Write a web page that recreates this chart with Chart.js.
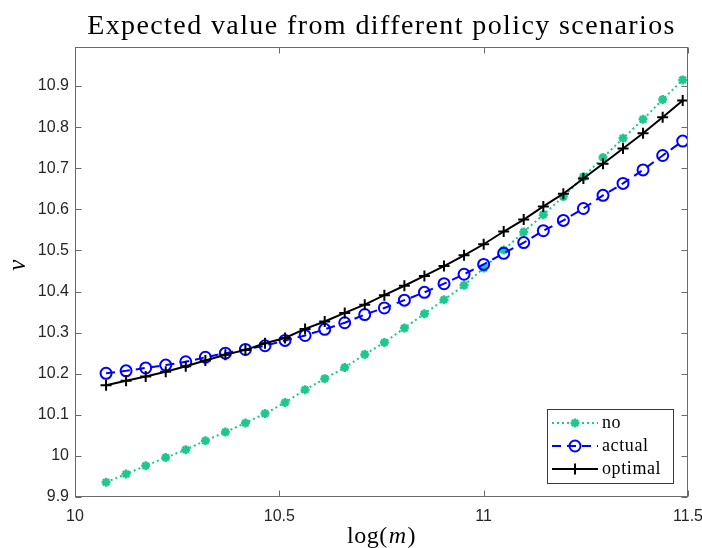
<!DOCTYPE html>
<html>
<head>
<meta charset="utf-8">
<script src="https://cdn.jsdelivr.net/npm/chart.js@4/dist/chart.umd.min.js"></script>
<style>
  html, body { margin: 0; padding: 0; background: #fff; }
</style>
</head>
<body>
<canvas id="valueChart" width="702" height="548"></canvas>
<script>
// grid of log(m)
const logM = [
  10.076, 10.125, 10.173, 10.222, 10.271, 10.319, 10.368, 10.417, 10.465, 10.514,
  10.563, 10.611, 10.660, 10.709, 10.757, 10.806, 10.855, 10.903, 10.952, 11.000,
  11.049, 11.098, 11.146, 11.195, 11.244, 11.292, 11.341, 11.390, 11.438, 11.487
];

// value under each policy scenario
const noPolicy = [
  9.936, 9.956, 9.976, 9.996, 10.015, 10.037, 10.058, 10.080, 10.103, 10.130,
  10.161, 10.188, 10.215, 10.247, 10.276, 10.311, 10.346, 10.380, 10.415, 10.457,
  10.501, 10.545, 10.587, 10.631, 10.679, 10.726, 10.773, 10.819, 10.867, 10.915
];
const actualPolicy = [
  10.201, 10.207, 10.214, 10.221, 10.229, 10.240, 10.250, 10.259, 10.268, 10.281,
  10.293, 10.308, 10.324, 10.344, 10.360, 10.379, 10.398, 10.419, 10.442, 10.466,
  10.493, 10.519, 10.548, 10.573, 10.602, 10.634, 10.663, 10.696, 10.731, 10.766
];
const optimalPolicy = [
  10.172, 10.183, 10.193, 10.205, 10.218, 10.232, 10.246, 10.258, 10.274, 10.287,
  10.309, 10.327, 10.348, 10.368, 10.391, 10.414, 10.438, 10.462, 10.488, 10.515,
  10.546, 10.575, 10.607, 10.638, 10.675, 10.711, 10.748, 10.785, 10.824, 10.865
];

const xTicks = [10, 10.5, 11, 11.5];
const xTickLabels = ['10', '10.5', '11', '11.5'];
const yTicks = [9.9, 10, 10.1, 10.2, 10.3, 10.4, 10.5, 10.6, 10.7, 10.8, 10.9];
const yTickLabels = ['9.9', '10', '10.1', '10.2', '10.3', '10.4', '10.5', '10.6', '10.7', '10.8', '10.9'];

const seriesNames = ['no', 'actual', 'optimal'];

const toPoints = (ys) => logM.map((x, i) => ({ x: x, y: ys[i] }));

const axisColor = '#6b6b6b';
const labelColor = '#262626';
const serif = '"Liberation Serif", "Times New Roman", serif';

// box, inner ticks, title, axis labels and legend
const matlabFrame = {
  id: 'matlabFrame',
  afterDraw(chart) {
    const { ctx, chartArea: a, scales } = chart;
    const L = Math.round(a.left) + 0.5, R = Math.round(a.right) - 0.5;
    const T = Math.round(a.top) + 0.5, B = Math.round(a.bottom) - 0.5;
    const tl = 6;
    ctx.save();
    ctx.strokeStyle = axisColor;
    ctx.lineWidth = 1;
    ctx.setLineDash([]);
    ctx.strokeRect(L, T, R - L, B - T);
    ctx.beginPath();
    xTicks.forEach(v => {
      const px = Math.round(scales.x.getPixelForValue(v)) + 0.5;
      ctx.moveTo(px, B); ctx.lineTo(px, B - tl);
      ctx.moveTo(px, T); ctx.lineTo(px, T + tl);
    });
    yTicks.forEach(v => {
      const py = Math.round(scales.y.getPixelForValue(v)) + 0.5;
      ctx.moveTo(L, py); ctx.lineTo(L + tl, py);
      ctx.moveTo(R, py); ctx.lineTo(R - tl, py);
    });
    ctx.stroke();

    // title
    const cx = (a.left + a.right) / 2;
    ctx.fillStyle = '#000';
    ctx.textAlign = 'center';
    ctx.textBaseline = 'alphabetic';
    ctx.font = '28px ' + serif;
    ctx.letterSpacing = '1.4px';
    ctx.fillText('Expected value from different policy scenarios', cx, 34);

    // x label: log(m) with italic m
    ctx.letterSpacing = '0.5px';
    ctx.textAlign = 'left';
    const up = '24px ' + serif, it = 'italic 24px ' + serif;
    ctx.font = up; const w1 = ctx.measureText('log(').width;
    ctx.font = it; const w2 = ctx.measureText('m').width;
    ctx.font = up; const w3 = ctx.measureText(')').width;
    const sx = cx - (w1 + w2 + w3 + 2) / 2;
    const by = 543;
    ctx.font = up; ctx.fillText('log(', sx, by);
    ctx.font = it; ctx.fillText('m', sx + w1 + 1, by);
    ctx.font = up; ctx.fillText(')', sx + w1 + w2 + 2, by);

    // y label
    ctx.save();
    ctx.translate(18, 265);
    ctx.rotate(-Math.PI / 2);
    ctx.textAlign = 'center';
    ctx.textBaseline = 'middle';
    ctx.font = 'italic 25px ' + serif;
    ctx.fillText('v', 0, 0);
    ctx.restore();

    // legend box
    const lx = 547.5, ly = 409.5, lw = 126, lh = 74;
    ctx.fillStyle = '#fff';
    ctx.fillRect(lx, ly, lw, lh);
    ctx.strokeStyle = '#3a3a3a';
    ctx.lineWidth = 1;
    ctx.strokeRect(lx, ly, lw, lh);
    const rows = [423, 446, 469];
    chart.data.datasets.forEach((ds, i) => {
      const y = rows[i];
      ctx.strokeStyle = ds.borderColor;
      ctx.lineWidth = ds.borderWidth;
      ctx.setLineDash(ds.borderDash || []);
      ctx.beginPath();
      ctx.moveTo(552, y); ctx.lineTo(598, y);
      ctx.stroke();
      ctx.setLineDash([]);
      ctx.fillStyle = ds.pointBackgroundColor;
      ctx.strokeStyle = ds.pointBorderColor;
      ctx.lineWidth = ds.pointBorderWidth;
      Chart.helpers.drawPoint(ctx, {
        pointStyle: ds.pointStyle, radius: ds.pointRadius, rotation: 0, borderWidth: ds.pointBorderWidth
      }, 575, y);
      ctx.fillStyle = '#000';
      ctx.font = '18px ' + serif;
      ctx.letterSpacing = '0.6px';
      ctx.textAlign = 'left';
      ctx.textBaseline = 'middle';
      ctx.fillText(seriesNames[i], 602, y);
    });
    ctx.letterSpacing = '0px';
    ctx.restore();
  }
};

new Chart(document.getElementById('valueChart'), {
  type: 'line',
  data: {
    datasets: [
      {
        label: seriesNames[0],
        data: toPoints(noPolicy),
        borderColor: '#1ec690',
        borderWidth: 2,
        borderDash: [2, 3],
        pointStyle: 'star',
        pointRadius: 4.5,
        pointBorderWidth: 2.5,
        pointBorderColor: '#1ec690',
        pointBackgroundColor: '#1ec690',
        order: 2
      },
      {
        label: seriesNames[1],
        data: toPoints(actualPolicy),
        borderColor: '#0000ff',
        borderWidth: 2,
        borderDash: [9, 6],
        pointStyle: 'circle',
        pointRadius: 5.5,
        pointBorderWidth: 2,
        pointBorderColor: '#0000ff',
        pointBackgroundColor: 'rgba(0,0,0,0)',
        order: 1
      },
      {
        label: seriesNames[2],
        data: toPoints(optimalPolicy),
        borderColor: '#000000',
        borderWidth: 2,
        pointStyle: 'cross',
        pointRadius: 5.5,
        pointBorderWidth: 2,
        pointBorderColor: '#000000',
        pointBackgroundColor: '#000000',
        order: 0
      }
    ]
  },
  options: {
    responsive: false,
    animation: false,
    devicePixelRatio: 1,
    layout: { padding: { left: 0, right: 14, top: 47, bottom: 0 } },
    plugins: {
      legend: { display: false },
      title: { display: false },
      tooltip: { enabled: false }
    },
    elements: { line: { tension: 0, fill: false } },
    scales: {
      x: {
        type: 'linear',
        min: 10,
        max: 11.5,
        grid: { display: false, drawTicks: false, tickLength: 0 },
        border: { display: false },
        afterBuildTicks: (s) => { s.ticks = xTicks.map(v => ({ value: v })); },
        afterFit: (s) => { s.height = 51; s.paddingLeft = 0; s.paddingRight = 0; },
        ticks: {
          maxRotation: 0,
          autoSkip: false,
          padding: 10,
          color: labelColor,
          font: { family: '"Liberation Sans", Arial, sans-serif', size: 16 },
          callback: (v, i) => xTickLabels[i]
        }
      },
      y: {
        type: 'linear',
        min: 9.9,
        max: 10.995,
        grid: { display: false, drawTicks: false, tickLength: 0 },
        border: { display: false },
        afterBuildTicks: (s) => { s.ticks = yTicks.map(v => ({ value: v })); },
        afterFit: (s) => { s.width = 75; s.paddingTop = 0; s.paddingBottom = 0; },
        ticks: {
          autoSkip: false,
          padding: 6,
          color: labelColor,
          font: { family: '"Liberation Sans", Arial, sans-serif', size: 16 },
          callback: (v, i) => yTickLabels[i]
        }
      }
    }
  },
  plugins: [matlabFrame]
});
</script>
</body>
</html>
